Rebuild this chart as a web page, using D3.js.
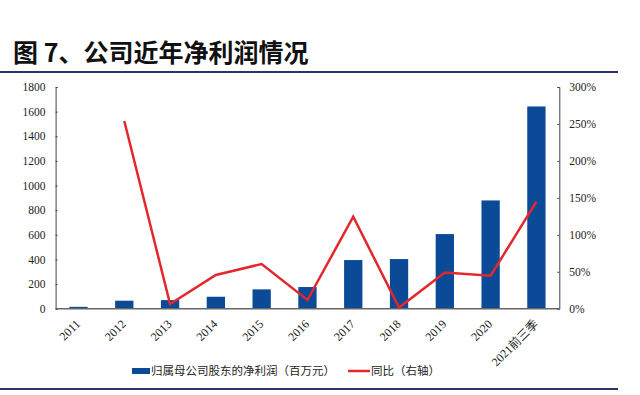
<!DOCTYPE html>
<html>

<head>
  <meta charset="utf-8">
  <title>公司近年净利润情况</title>
  <script src="https://cdn.jsdelivr.net/npm/d3@7"></script>
  <style>
    body { margin: 0; background: #fff; }
    svg text { font-family: "Liberation Serif", "Noto Sans CJK SC", serif; }
  </style>
</head>

<body>
  <script type="text/javascript">
    // chart data
    var years = ["2011", "2012", "2013", "2014", "2015", "2016", "2017", "2018", "2019", "2020", "2021前三季"];
    var netProfit = [15, 65, 70, 97, 157, 176, 395, 403, 606, 879, 1642];
    var yoy = [null, 254, 6.4, 45.6, 60.5, 11.8, 124.5, 1.5, 49, 44.7, 144.8];
    var leftTicks = [0, 200, 400, 600, 800, 1000, 1200, 1400, 1600, 1800];
    var rightTicks = [0, 50, 100, 150, 200, 250, 300];

    var w = 640, h = 395;
    var plotLeft = 55.6, plotRight = 559.3, plotTop = 87, plotBottom = 308.7;

    var svg = d3.select("body").append("svg")
      .attr("width", w)
      .attr("height", h);

    // title + rules
    svg.append("text")
      .attr("x", 13)
      .attr("y", 62)
      .attr("font-size", 25)
      .attr("font-weight", "bold")
      .style("font-family", "'Noto Sans CJK SC', sans-serif")
      .attr("fill", "#111")
      .text("图 7、公司近年净利润情况");

    svg.append("line")
      .attr("x1", 0).attr("x2", 618)
      .attr("y1", 72).attr("y2", 72)
      .attr("stroke", "#2a3470").attr("stroke-width", 2);

    svg.append("line")
      .attr("x1", 0).attr("x2", 618)
      .attr("y1", 389).attr("y2", 389)
      .attr("stroke", "#2a3470").attr("stroke-width", 2);

    // scales
    var xc = d3.scalePoint().domain(years)
      .range([plotLeft + (plotRight - plotLeft) / 22, plotRight - (plotRight - plotLeft) / 22]);
    var yL = d3.scaleLinear().domain([0, 1800]).range([plotBottom, plotTop]);
    var yR = d3.scaleLinear().domain([0, 300]).range([plotBottom, plotTop]);

    var barW = 18.3;

    // bars
    svg.append("g").selectAll("rect")
      .data(netProfit)
      .enter()
      .append("rect")
      .attr("x", function(d, i) { return xc(years[i]) - barW / 2; })
      .attr("y", function(d) { return yL(d); })
      .attr("width", barW)
      .attr("height", function(d) { return plotBottom - yL(d); })
      .attr("fill", "#0b4a97");

    // line
    var line = d3.line()
      .defined(function(d) { return d != null; })
      .x(function(d, i) { return xc(years[i]); })
      .y(function(d) { return yR(d); });

    svg.append("path")
      .datum(yoy)
      .attr("d", line)
      .attr("fill", "none")
      .attr("stroke", "#e2282c")
      .attr("stroke-width", 2.5)
      .attr("stroke-linejoin", "miter");

    // left axis
    var gL = svg.append("g")
      .attr("transform", "translate(" + plotLeft + ",0)")
      .call(d3.axisLeft(yL).tickValues(leftTicks).tickSize(-2).tickPadding(10).tickFormat(d3.format("d")));
    gL.select(".domain").attr("stroke", "#444").attr("stroke-width", 1);
    gL.selectAll(".tick line").attr("stroke", "#444");
    gL.selectAll("text").attr("font-size", 11.5).attr("fill", "#222");

    // right axis
    var gR = svg.append("g")
      .attr("transform", "translate(" + plotRight + ",0)")
      .call(d3.axisRight(yR).tickValues(rightTicks).tickSize(-2).tickPadding(10).tickFormat(function(d) { return d + "%"; }));
    gR.select(".domain").attr("stroke", "#444").attr("stroke-width", 1);
    gR.selectAll(".tick line").attr("stroke", "#444");
    gR.selectAll("text").attr("font-size", 11.5).attr("fill", "#222");

    // x axis
    var gX = svg.append("g")
      .attr("transform", "translate(0," + plotBottom + ")")
      .call(d3.axisBottom(xc).tickSize(0).tickPadding(0));
    gX.select(".domain").remove();
    svg.append("line")
      .attr("x1", plotLeft).attr("x2", plotRight)
      .attr("y1", plotBottom).attr("y2", plotBottom)
      .attr("stroke", "#666").attr("stroke-width", 1.5);
    gX.selectAll("text")
      .attr("font-size", 12)
      .attr("fill", "#222")
      .attr("text-anchor", "end")
      .attr("y", 0)
      .attr("dy", "0.35em")
      .attr("transform", "translate(-1,13) rotate(-45)");

    // legend
    var lg = svg.append("g").attr("transform", "translate(0,371)");
    lg.append("rect")
      .attr("x", 132).attr("y", -3)
      .attr("width", 18).attr("height", 6)
      .attr("fill", "#0b4a97");
    lg.append("text")
      .attr("x", 151).attr("y", 4)
      .attr("font-size", 11.5)
      .attr("fill", "#222")
      .style("font-family", "'Noto Sans CJK SC', sans-serif")
      .text("归属母公司股东的净利润（百万元）");
    lg.append("line")
      .attr("x1", 348).attr("x2", 370)
      .attr("y1", 0).attr("y2", 0)
      .attr("stroke", "#e2282c").attr("stroke-width", 2.5);
    lg.append("text")
      .attr("x", 371).attr("y", 4)
      .attr("font-size", 11.5)
      .attr("fill", "#222")
      .style("font-family", "'Noto Sans CJK SC', sans-serif")
      .text("同比（右轴）");
  </script>
</body>

</html>
